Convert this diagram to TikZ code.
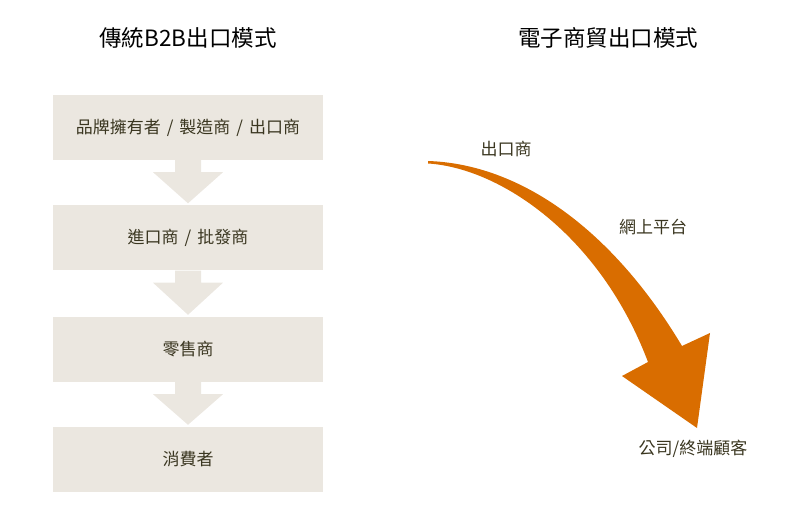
\documentclass[tikz,border=0pt]{standalone}
\usepackage{fontspec}
\setmainfont{Noto Sans CJK TC}
\usetikzlibrary{calc}
\definecolor{boxbg}{HTML}{EBE7E0}
\definecolor{txtcol}{HTML}{3A3620}
\definecolor{flowor}{HTML}{D96D00}
\newcommand{\sepslash}{\hspace{6pt}/\hspace{6pt}}
\begin{document}
\begin{tikzpicture}[x=1pt,y=-1pt,
    stagebox/.style={fill=boxbg,minimum width=270pt,minimum height=65pt,inner sep=0pt,
      font=\fontsize{17}{19}\selectfont,text=txtcol},
    titletext/.style={font=\fontsize{22.5}{25}\selectfont,text=black},
    flowlabel/.style={font=\fontsize{17}{19}\selectfont,text=txtcol}]
                \useasboundingbox (0,0) rectangle (800,526);

                \node[titletext] (T1) at (188,38) {傳統B2B出口模式};
                \node[titletext] (T2) at (608,38) {電子商貿出口模式};

                \node[stagebox] (S1) at (188,127.5) {品牌擁有者\sepslash{}製造商\sepslash{}出口商};
                \node[stagebox] (S2) at (188,238) {進口商\sepslash{}批發商};
                \node[stagebox] (S3) at (188,349.5) {零售商};
                \node[stagebox] (S4) at (188,459.5) {消費者};

                \foreach \a/\b in {S1/S2,S2/S3,S3/S4}
                    \fill[boxbg] ($(\a.south)+(-13,0)$) -- ++(0,12) -- ++(-22,0)
                        -- ($(\b.north)+(0,-2)$) -- ($(\a.south)+(35,12)$)
                        -- ++(-22,0) -- ++(0,-12) -- cycle;

                \coordinate (tailU) at (428,161);
                \coordinate (tailD) at (428,163.5);
                \coordinate (hU) at (682,346);
                \coordinate (hR) at (710,333);
                \coordinate (hP) at (697,428);
                \coordinate (hL) at (622,376);
                \coordinate (hD) at (648,362);

                \fill[flowor] (tailU) .. controls (520,164) and (612,229) .. (hU)
                    -- (hR) -- (hP) -- (hL) -- (hD)
                    .. controls (600,235) and (500,168) .. (tailD) -- cycle;

                \node[flowlabel] (E1) at (506,149) {出口商};
                \node[flowlabel] (E2) at (653,227) {網上平台};
                \node[flowlabel] (E3) at (693,449) {公司/終端顧客};
\end{tikzpicture}
\end{document}
